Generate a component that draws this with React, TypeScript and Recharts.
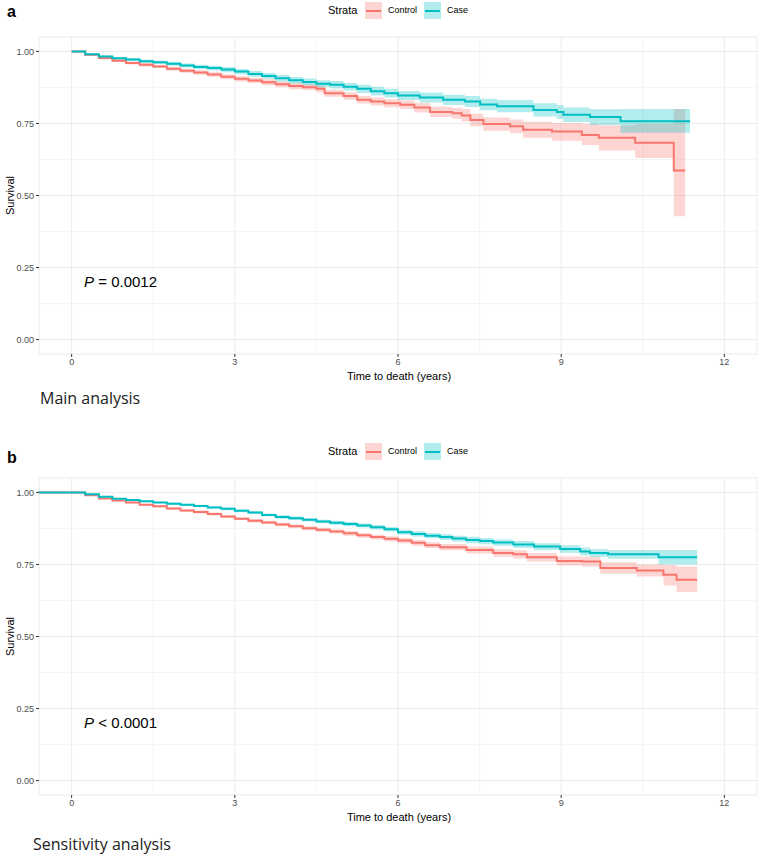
import {
  ComposedChart,
  Area,
  Line,
  XAxis,
  YAxis,
  CartesianGrid,
} from 'recharts';

// rows: [time, survival, lower CI, upper CI]
const mainControl = [
  [0, 1, 1, 1],
  [0.25, 0.988, 0.985, 0.991],
  [0.5, 0.977, 0.973, 0.981],
  [0.75, 0.968, 0.963, 0.973],
  [1.0, 0.96, 0.955, 0.965],
  [1.25, 0.954, 0.948, 0.96],
  [1.5, 0.948, 0.942, 0.954],
  [1.75, 0.94, 0.933, 0.947],
  [2.0, 0.933, 0.926, 0.94],
  [2.25, 0.927, 0.919, 0.935],
  [2.5, 0.92, 0.912, 0.928],
  [2.75, 0.912, 0.903, 0.921],
  [3.0, 0.905, 0.896, 0.914],
  [3.25, 0.899, 0.89, 0.908],
  [3.5, 0.893, 0.883, 0.903],
  [3.75, 0.886, 0.876, 0.896],
  [4.0, 0.88, 0.869, 0.891],
  [4.25, 0.876, 0.865, 0.887],
  [4.5, 0.87, 0.858, 0.882],
  [4.65, 0.855, 0.843, 0.867],
  [5.0, 0.845, 0.832, 0.858],
  [5.25, 0.832, 0.819, 0.845],
  [5.5, 0.826, 0.812, 0.84],
  [5.75, 0.82, 0.806, 0.834],
  [6.04, 0.815, 0.8, 0.83],
  [6.3, 0.805, 0.788, 0.822],
  [6.59, 0.79, 0.772, 0.808],
  [7.0, 0.785, 0.766, 0.804],
  [7.17, 0.778, 0.757, 0.799],
  [7.33, 0.762, 0.74, 0.784],
  [7.57, 0.748, 0.725, 0.771],
  [8.06, 0.74, 0.716, 0.764],
  [8.3, 0.728, 0.7, 0.756],
  [8.83, 0.722, 0.69, 0.752],
  [9.38, 0.71, 0.675, 0.748],
  [9.69, 0.7, 0.656, 0.744],
  [10.36, 0.683, 0.63, 0.749],
  [11.07, 0.587, 0.428, 0.8],
  [11.28, 0.587, 0.428, 0.8],
];

const mainCase = [
  [0, 1, 1, 1],
  [0.25, 0.99, 0.987, 0.993],
  [0.5, 0.982, 0.978, 0.986],
  [0.75, 0.976, 0.971, 0.981],
  [1.0, 0.972, 0.967, 0.977],
  [1.25, 0.966, 0.96, 0.972],
  [1.5, 0.962, 0.956, 0.968],
  [1.75, 0.957, 0.95, 0.964],
  [2.0, 0.951, 0.944, 0.958],
  [2.25, 0.946, 0.938, 0.954],
  [2.5, 0.942, 0.934, 0.95],
  [2.75, 0.937, 0.928, 0.946],
  [3.0, 0.93, 0.921, 0.939],
  [3.25, 0.922, 0.912, 0.932],
  [3.5, 0.915, 0.905, 0.925],
  [3.75, 0.907, 0.896, 0.918],
  [4.0, 0.9, 0.889, 0.911],
  [4.25, 0.894, 0.882, 0.906],
  [4.5, 0.888, 0.876, 0.9],
  [4.75, 0.884, 0.871, 0.897],
  [5.0, 0.877, 0.864, 0.89],
  [5.25, 0.87, 0.856, 0.884],
  [5.5, 0.862, 0.847, 0.877],
  [5.75, 0.855, 0.84, 0.87],
  [6.0, 0.847, 0.831, 0.863],
  [6.4, 0.84, 0.823, 0.857],
  [6.83, 0.832, 0.814, 0.85],
  [7.23, 0.826, 0.807, 0.845],
  [7.51, 0.816, 0.796, 0.836],
  [7.82, 0.81, 0.789, 0.831],
  [8.49, 0.797, 0.774, 0.82],
  [8.92, 0.79, 0.766, 0.814],
  [9.04, 0.78, 0.755, 0.805],
  [9.53, 0.772, 0.745, 0.799],
  [10.09, 0.758, 0.718, 0.8],
  [11.37, 0.758, 0.718, 0.8],
];

const sensControl = [
  [-0.6, 1, 1, 1],
  [0.25, 0.99, 0.988, 0.992],
  [0.5, 0.979, 0.977, 0.981],
  [0.75, 0.972, 0.969, 0.975],
  [1.0, 0.965, 0.962, 0.968],
  [1.25, 0.957, 0.954, 0.96],
  [1.5, 0.952, 0.948, 0.956],
  [1.75, 0.944, 0.94, 0.948],
  [2.0, 0.937, 0.933, 0.941],
  [2.25, 0.932, 0.927, 0.937],
  [2.5, 0.925, 0.92, 0.93],
  [2.75, 0.916, 0.911, 0.921],
  [3.0, 0.909, 0.904, 0.914],
  [3.25, 0.902, 0.896, 0.908],
  [3.5, 0.896, 0.89, 0.902],
  [3.75, 0.889, 0.883, 0.895],
  [4.0, 0.883, 0.877, 0.889],
  [4.25, 0.876, 0.869, 0.883],
  [4.5, 0.87, 0.863, 0.877],
  [4.75, 0.864, 0.857, 0.871],
  [5.0, 0.858, 0.85, 0.866],
  [5.25, 0.851, 0.843, 0.859],
  [5.5, 0.845, 0.837, 0.853],
  [5.75, 0.839, 0.83, 0.848],
  [6.0, 0.833, 0.824, 0.842],
  [6.25, 0.825, 0.815, 0.835],
  [6.5, 0.817, 0.807, 0.827],
  [6.77, 0.81, 0.799, 0.821],
  [7.26, 0.8, 0.788, 0.812],
  [7.75, 0.79, 0.777, 0.803],
  [8.12, 0.785, 0.771, 0.799],
  [8.37, 0.775, 0.76, 0.79],
  [8.92, 0.762, 0.746, 0.778],
  [9.38, 0.76, 0.743, 0.777],
  [9.72, 0.738, 0.718, 0.758],
  [10.39, 0.729, 0.708, 0.75],
  [10.88, 0.714, 0.677, 0.748],
  [11.12, 0.697, 0.654, 0.743],
  [11.5, 0.697, 0.654, 0.743],
];

const sensCase = [
  [-0.6, 1, 1, 1],
  [0.25, 0.994, 0.993, 0.995],
  [0.5, 0.985, 0.983, 0.987],
  [0.75, 0.978, 0.976, 0.98],
  [1.0, 0.974, 0.971, 0.977],
  [1.25, 0.969, 0.966, 0.972],
  [1.5, 0.965, 0.962, 0.968],
  [1.75, 0.961, 0.957, 0.965],
  [2.0, 0.957, 0.953, 0.961],
  [2.25, 0.953, 0.949, 0.957],
  [2.5, 0.948, 0.944, 0.952],
  [2.75, 0.943, 0.938, 0.948],
  [3.0, 0.936, 0.931, 0.941],
  [3.25, 0.93, 0.925, 0.935],
  [3.5, 0.922, 0.917, 0.927],
  [3.75, 0.915, 0.909, 0.921],
  [4.0, 0.91, 0.904, 0.916],
  [4.25, 0.905, 0.899, 0.911],
  [4.5, 0.899, 0.893, 0.905],
  [4.75, 0.895, 0.888, 0.902],
  [5.0, 0.89, 0.883, 0.897],
  [5.25, 0.885, 0.878, 0.892],
  [5.5, 0.879, 0.871, 0.887],
  [5.75, 0.872, 0.864, 0.88],
  [6.0, 0.862, 0.854, 0.87],
  [6.25, 0.856, 0.847, 0.865],
  [6.5, 0.85, 0.841, 0.859],
  [6.77, 0.845, 0.835, 0.855],
  [7.0, 0.84, 0.83, 0.85],
  [7.25, 0.835, 0.824, 0.846],
  [7.5, 0.831, 0.82, 0.842],
  [7.75, 0.826, 0.815, 0.837],
  [8.12, 0.819, 0.807, 0.831],
  [8.5, 0.812, 0.8, 0.824],
  [8.98, 0.804, 0.791, 0.817],
  [9.35, 0.795, 0.781, 0.809],
  [9.53, 0.79, 0.776, 0.804],
  [9.86, 0.785, 0.77, 0.8],
  [10.79, 0.775, 0.75, 0.8],
  [11.5, 0.775, 0.75, 0.8],
];

const xTicks = [0, 3, 6, 9, 12];
const yTicks = [0, 0.25, 0.5, 0.75, 1];
const xMinor = [1.5, 4.5, 7.5, 10.5];
const yMinor = [0.125, 0.375, 0.625, 0.875];

const RED = '#F8766D';
const TEAL = '#00BFC4';
const FONT = '"Liberation Sans", Arial, Helvetica, sans-serif';

const toRows = (rows: number[][]) =>
  rows.map(([t, s, lo, hi]) => ({ t, s, band: [lo, hi] }));

const abs = (left: number, top: number, extra: any = {}) => ({
  position: 'absolute' as const,
  left,
  top,
  whiteSpace: 'nowrap' as const,
  fontFamily: FONT,
  ...extra,
});

function LegendKey({ left, top, color }: { left: number; top: number; color: string }) {
  return (
    <div style={abs(left, top, { width: 17, height: 17, background: color + '4D' })}>
      <div style={{ position: 'absolute', left: 1, right: 1, top: 7.5, height: 2, background: color }} />
    </div>
  );
}

interface PanelProps {
  top: number;
  letter: string;
  letterTop: number;
  control: number[][];
  caseRows: number[][];
  pSign: string;
  pValue: string;
  caption: string;
  captionLeft: number;
  captionTop: number;
}

function SurvPanel(p: PanelProps) {
  const ctrl = toRows(p.control);
  const cs = toRows(p.caseRows);
  return (
    <>
      <div style={abs(7, p.letterTop, { fontSize: 16, fontWeight: 700, lineHeight: '16px' })}>
        {p.letter}
      </div>
      <div style={abs(328, p.top + 3, { fontSize: 11, lineHeight: '14px', color: '#000' })}>Strata</div>
      <LegendKey left={365} top={p.top + 2} color={RED} />
      <div style={abs(388, p.top + 4.5, { fontSize: 9, lineHeight: '11px' })}>Control</div>
      <LegendKey left={424} top={p.top + 2} color={TEAL} />
      <div style={abs(447, p.top + 4.5, { fontSize: 9, lineHeight: '11px' })}>Case</div>

      <div style={abs(0, p.top, { width: 759, height: 384 })}>
        <ComposedChart width={759} height={384} margin={{ top: 37, right: 2, bottom: 0, left: 0 }}>
          <CartesianGrid
            stroke="#F3F3F3"
            strokeWidth={0.8}
            horizontalValues={yMinor}
            verticalValues={xMinor}
          />
          <CartesianGrid stroke="#EBEBEB" strokeWidth={1} />
          <XAxis
            type="number"
            dataKey="t"
            domain={[-0.6, 12.6]}
            ticks={xTicks}
            interval={0}
            allowDataOverflow
            height={30}
            axisLine={false}
            tickSize={3}
            tickMargin={2}
            tickLine={{ stroke: '#333333' }}
            tick={{ fontSize: 9, fill: '#4D4D4D', fontFamily: FONT }}
          />
          <YAxis
            type="number"
            domain={[-0.05, 1.05]}
            ticks={yTicks}
            interval={0}
            allowDataOverflow
            width={39}
            axisLine={false}
            tickSize={3}
            tickMargin={2}
            tickLine={{ stroke: '#333333' }}
            tick={{ fontSize: 9, fill: '#4D4D4D', fontFamily: FONT }}
            tickFormatter={(v: number) => v.toFixed(2)}
          />
          <Area
            data={ctrl}
            dataKey="band"
            type="stepAfter"
            stroke="none"
            fill={RED}
            fillOpacity={0.3}
            isAnimationActive={false}
            activeDot={false}
          />
          <Area
            data={cs}
            dataKey="band"
            type="stepAfter"
            stroke="none"
            fill={TEAL}
            fillOpacity={0.3}
            isAnimationActive={false}
            activeDot={false}
          />
          <Line
            data={ctrl}
            dataKey="s"
            type="stepAfter"
            stroke={RED}
            strokeWidth={2}
            dot={false}
            activeDot={false}
            isAnimationActive={false}
          />
          <Line
            data={cs}
            dataKey="s"
            type="stepAfter"
            stroke={TEAL}
            strokeWidth={2}
            dot={false}
            activeDot={false}
            isAnimationActive={false}
          />
        </ComposedChart>
      </div>

      <div
        style={abs(-20, p.top + 189, {
          width: 60,
          textAlign: 'center',
          fontSize: 11,
          lineHeight: '13px',
          transform: 'rotate(-90deg)',
        })}
      >
        Survival
      </div>
      <div style={abs(84, p.top + 273, { fontSize: 15, lineHeight: '18px' })}>
        <i>P</i> {p.pSign} {p.pValue}
      </div>
      <div style={abs(299, p.top + 369.5, { width: 200, textAlign: 'center', fontSize: 11, lineHeight: '13px' })}>
        Time to death (years)
      </div>
      <div
        style={abs(p.captionLeft, p.captionTop - 11, {
          fontFamily: '"Open Sans", sans-serif',
          fontSize: 16,
          lineHeight: '22px',
          color: '#222',
        })}
      >
        {p.caption}
      </div>
    </>
  );
}

export default function App() {
  return (
    <div style={{ position: 'absolute', left: 0, top: 0, width: 759, height: 856, background: '#fff' }}>
      <SurvPanel
        top={0}
        letter="a"
        letterTop={3.5}
        control={mainControl}
        caseRows={mainCase}
        pSign="="
        pValue="0.0012"
        caption="Main analysis"
        captionLeft={40}
        captionTop={398}
      />
      <SurvPanel
        top={441}
        letter="b"
        letterTop={449.5}
        control={sensControl}
        caseRows={sensCase}
        pSign="<"
        pValue="0.0001"
        caption="Sensitivity analysis"
        captionLeft={33}
        captionTop={844}
      />
    </div>
  );
}
